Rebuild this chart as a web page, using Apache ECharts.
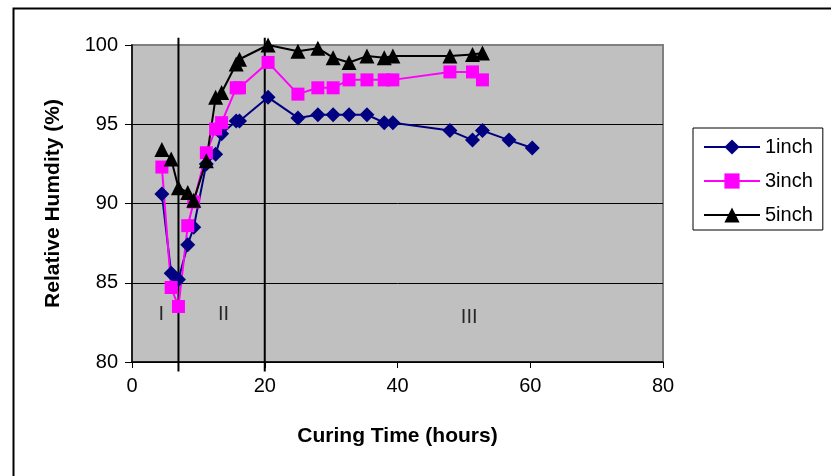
<!DOCTYPE html>
<html>
<head>
<meta charset="utf-8">
<script src="https://cdn.jsdelivr.net/npm/echarts@6/dist/echarts.min.js"></script>
<style>
html,body{margin:0;padding:0;background:#fff;}
#chart{width:831px;height:476px;}
</style>
</head>
<body>
<div id="chart"></div>
<script>
// Curing time (hours) shared by the series
const times = [4.5, 5.9, 7.0, 8.4, 9.3, 11.2, 12.6, 13.5, 15.7, 16.2, 20.5, 25.0, 28.0, 30.3, 32.7, 35.4, 38.0, 39.3, 47.9, 51.3, 52.8, 56.8, 60.3];
const rh1inch = [90.6, 85.6, 85.2, 87.4, 88.5, 92.5, 93.1, 94.4, 95.2, 95.2, 96.7, 95.4, 95.6, 95.6, 95.6, 95.6, 95.1, 95.1, 94.6, 94.0, 94.6, 94.0, 93.5];
const rh3inch = [92.3, 84.7, 83.5, 88.6, 90.1, 93.2, 94.7, 95.1, 97.3, 97.3, 98.9, 96.9, 97.3, 97.3, 97.8, 97.8, 97.8, 97.8, 98.3, 98.3, 97.8];
const rh5inch = [93.4, 92.8, 91.0, 90.7, 90.2, 92.7, 96.7, 97.0, 98.8, 99.1, 100.0, 99.6, 99.8, 99.2, 98.9, 99.3, 99.2, 99.3, 99.3, 99.4, 99.5];
const seriesNames = ['1inch', '3inch', '5inch'];
const phaseLabels = ['I', 'II', 'III'];
const phaseLabelX = [4.4, 13.8, 50.8];
const phaseLabelY = [83.0, 83.0, 82.8];
const phaseDividerX = [7, 20];
const phaseDividerY = [79.4, 100.45];
const xTicks = [0, 20, 40, 60, 80];
const yTicks = [80, 85, 90, 95, 100];

function pairs(ys) { return ys.map((v, i) => [times[i], v]); }

const FONT = '"Liberation Sans", Arial, sans-serif';
const chart = echarts.init(document.getElementById('chart'), null, {renderer: 'canvas'});

const option = {
  animation: false,
  backgroundColor: '#ffffff',
  textStyle: {fontFamily: FONT},
  grid: {
    left: 132, right: 168, top: 45, bottom: 114,
    show: true, backgroundColor: '#c0c0c0', borderColor: '#808080', borderWidth: 2
  },
  legend: {
    data: seriesNames,
    orient: 'vertical',
    left: 693, top: 128,
    padding: [8, 10, 4, 10],
    itemWidth: 56, itemHeight: 19,
    itemGap: 12,
    borderColor: '#000', borderWidth: 1,
    backgroundColor: '#fff',
    textStyle: {fontSize: 20, color: '#000', fontFamily: FONT, lineHeight: 22}
  },
  xAxis: {
    type: 'value', min: xTicks[0], max: xTicks[xTicks.length - 1], interval: 20,
    name: 'Curing Time (hours)', nameLocation: 'middle', nameGap: 64,
    nameTextStyle: {fontSize: 21, fontWeight: 'bold', color: '#000', fontFamily: FONT},
    axisLine: {show: true, onZero: false, lineStyle: {color: '#000', width: 1.5}},
    axisTick: {show: true, inside: false, length: 6, lineStyle: {color: '#000'}},
    axisLabel: {fontSize: 20, color: '#000', margin: 14, fontFamily: FONT},
    splitLine: {show: false}
  },
  yAxis: {
    type: 'value', min: yTicks[0], max: yTicks[yTicks.length - 1], interval: 5,
    name: 'Relative Humdity (%)', nameLocation: 'middle', nameGap: 68,
    nameTextStyle: {fontSize: 21, fontWeight: 'bold', color: '#000', fontFamily: FONT},
    axisLine: {show: true, lineStyle: {color: '#000', width: 1.5}},
    axisTick: {show: true, inside: false, length: 7, lineStyle: {color: '#000'}},
    axisLabel: {fontSize: 20, color: '#000', margin: 14, fontFamily: FONT},
    splitLine: {show: true, lineStyle: {color: ['#000', '#000', '#000', '#000', '#808080'], width: 1}}
  },
  series: [
    {
      name: seriesNames[0], type: 'line', data: pairs(rh1inch),
      symbol: 'diamond', symbolSize: 15,
      lineStyle: {color: '#000080', width: 2}, itemStyle: {color: '#000080'}
    },
    {
      name: seriesNames[1], type: 'line', data: pairs(rh3inch),
      symbol: 'rect', symbolSize: 13,
      lineStyle: {color: '#ff00ff', width: 2}, itemStyle: {color: '#ff00ff'}
    },
    {
      name: seriesNames[2], type: 'line', data: pairs(rh5inch),
      symbol: 'triangle', symbolSize: 15,
      lineStyle: {color: '#000000', width: 2}, itemStyle: {color: '#000000'}
    },
    {
      name: 'phases', type: 'scatter', symbolSize: 0, silent: true,
      data: phaseLabels.map((t, i) => ({name: t, value: [phaseLabelX[i], phaseLabelY[i]]})),
      label: {show: true, position: 'inside', formatter: p => p.name, fontSize: 20, color: '#000', fontFamily: FONT}
    }
  ]
};
chart.setOption(option);

// phase divider lines and outer chart frame, placed through the grid's scales
const graphics = [{
  type: 'rect', left: 11, top: 6, silent: true,
  shape: {x: 0, y: 0, width: 840, height: 490},
  style: {fill: null, stroke: '#000', lineWidth: 2}, z: 100
}];
phaseDividerX.forEach(x => {
  const p1 = chart.convertToPixel({gridIndex: 0}, [x, phaseDividerY[0]]);
  const p2 = chart.convertToPixel({gridIndex: 0}, [x, phaseDividerY[1]]);
  graphics.push({
    type: 'line', silent: true, z: 1,
    shape: {x1: p1[0], y1: p1[1], x2: p2[0], y2: p2[1]},
    style: {stroke: '#000', lineWidth: 2}
  });
});
chart.setOption({graphic: graphics});
</script>
</body>
</html>
